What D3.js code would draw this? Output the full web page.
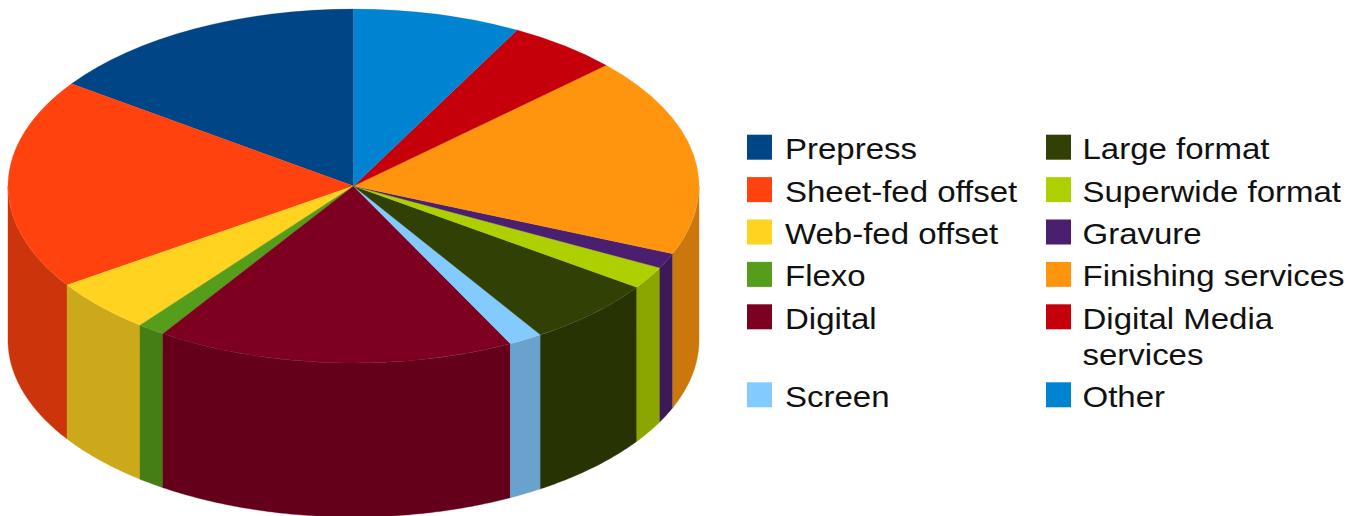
<!DOCTYPE html>
<html>
<head>
<meta charset="utf-8">
<title>Print market segments</title>
<script src="https://cdn.jsdelivr.net/npm/d3@7"></script>
<style>
  html, body { margin: 0; padding: 0; background: #fff; }
  svg { display: block; }
  text { font-family: "Liberation Sans", Arial, sans-serif; fill: #111; }
</style>
</head>
<body>
<svg id="chart" width="1360" height="516"></svg>
<script>
// Segments in series order, share of the total in percent.
const categories = ["Prepress", "Sheet-fed offset", "Web-fed offset", "Flexo", "Digital", "Screen",
                    "Large format", "Superwide format", "Gravure", "Finishing services",
                    "Digital Media services", "Other"];
const shares = [15.2, 19.25, 4.95, 1.3, 16.8, 1.6, 6.2, 2.05, 1.4, 18.2, 5.2, 7.85];
const topColors = ["#004586", "#ff420e", "#ffd320", "#579d1c", "#7e0021", "#83caff",
                   "#314004", "#aecf00", "#4b1f6f", "#ff950e", "#c5000b", "#0084d1"];
// Legend lines per entry and the column each entry sits in.
const legendLines = [["Prepress"], ["Sheet-fed offset"], ["Web-fed offset"], ["Flexo"], ["Digital"], ["Screen"],
                     ["Large format"], ["Superwide format"], ["Gravure"], ["Finishing services"],
                     ["Digital Media", "services"], ["Other"]];
const legendColumn = [0, 0, 0, 0, 0, 0, 1, 1, 1, 1, 1, 1];

const cx = 353.5, cy = 186, rx = 345.5, ry = 177, depth = 154;
const sideShade = 0.8;

const svg = d3.select("#chart");

// Slices run counter-clockwise from twelve o'clock.
const pie = d3.pie().sort(null).startAngle(0).endAngle(-2 * Math.PI);
const slices = pie(shares).map((d, i) => ({ ...d, color: topColors[i], name: categories[i] }));

const xUnit = d3.scaleLinear().domain([-1, 1]).range([cx - rx, cx + rx]);
const yUnit = d3.scaleLinear().domain([-1, 1]).range([cy - ry, cy + ry]);

function shaded(color) {
  const c = d3.rgb(color);
  return d3.rgb(c.r * sideShade, c.g * sideShade, c.b * sideShade).formatHex();
}

// Outer wall: only the stretch of each slice on the near half of the rim shows.
const wall = d3.area()
  .x(a => xUnit(Math.sin(a)))
  .y0(a => yUnit(-Math.cos(a)))
  .y1(a => yUnit(-Math.cos(a)) + depth);

const walls = svg.append("g").attr("class", "walls");
slices.forEach(s => {
  // Fold the negative pie angles onto the 0..2pi clockwise rim position.
  const from = 2 * Math.PI + s.endAngle;
  const to = 2 * Math.PI + s.startAngle;
  const a0 = Math.max(from, Math.PI / 2);
  const a1 = Math.min(to, 3 * Math.PI / 2);
  if (a1 <= a0) return;
  const steps = Math.max(4, Math.ceil((a1 - a0) / 0.01));
  const angles = d3.range(steps + 1).map(k => a0 + (a1 - a0) * k / steps);
  walls.append("path")
    .attr("d", wall(angles))
    .attr("fill", shaded(s.color))
    .attr("stroke", shaded(s.color))
    .attr("stroke-width", 0.4);
});

// Top face: a flat pie squashed vertically into an ellipse.
const arc = d3.arc().innerRadius(0).outerRadius(rx);
svg.append("g")
  .attr("class", "top")
  .attr("transform", `translate(${cx},${cy}) scale(1,${ry / rx})`)
  .selectAll("path")
  .data(slices)
  .join("path")
  .attr("d", arc)
  .attr("fill", d => d.color)
  .attr("stroke", d => d.color)
  .attr("stroke-width", 0.4);

// Legend in two columns; a wrapped label pushes the following row down.
// Labels are set in a slightly widened face.
const columnSwatchX = [747, 1046];
const columnTextX = [785, 1082.5];
const rowStep = 42.4, lineStep = 36, firstRow = 134.7, swatch = 25;
const textWiden = 1.1;

const legend = svg.append("g").attr("class", "legend");
[0, 1].forEach(col => {
  let y = firstRow;
  let rowIndex = 0;
  categories.forEach((name, i) => {
    if (legendColumn[i] !== col) return;
    // The row after the wrapped entry starts lower in both columns.
    if (rowIndex === 5) y = firstRow + 4 * rowStep + rowStep + lineStep - 0.4;
    legend.append("rect")
      .attr("x", columnSwatchX[col]).attr("y", y)
      .attr("width", swatch).attr("height", swatch)
      .attr("fill", topColors[i]);
    const label = legend.append("text")
      .attr("transform", `translate(${columnTextX[col]},${y + 24.5}) scale(${textWiden},1)`)
      .attr("font-size", 30);
    legendLines[i].forEach((line, k) => {
      label.append("tspan")
        .attr("x", 0)
        .attr("dy", k === 0 ? 0 : lineStep)
        .text(line);
    });
    y += rowStep;
    rowIndex += 1;
  });
});
</script>
</body>
</html>
